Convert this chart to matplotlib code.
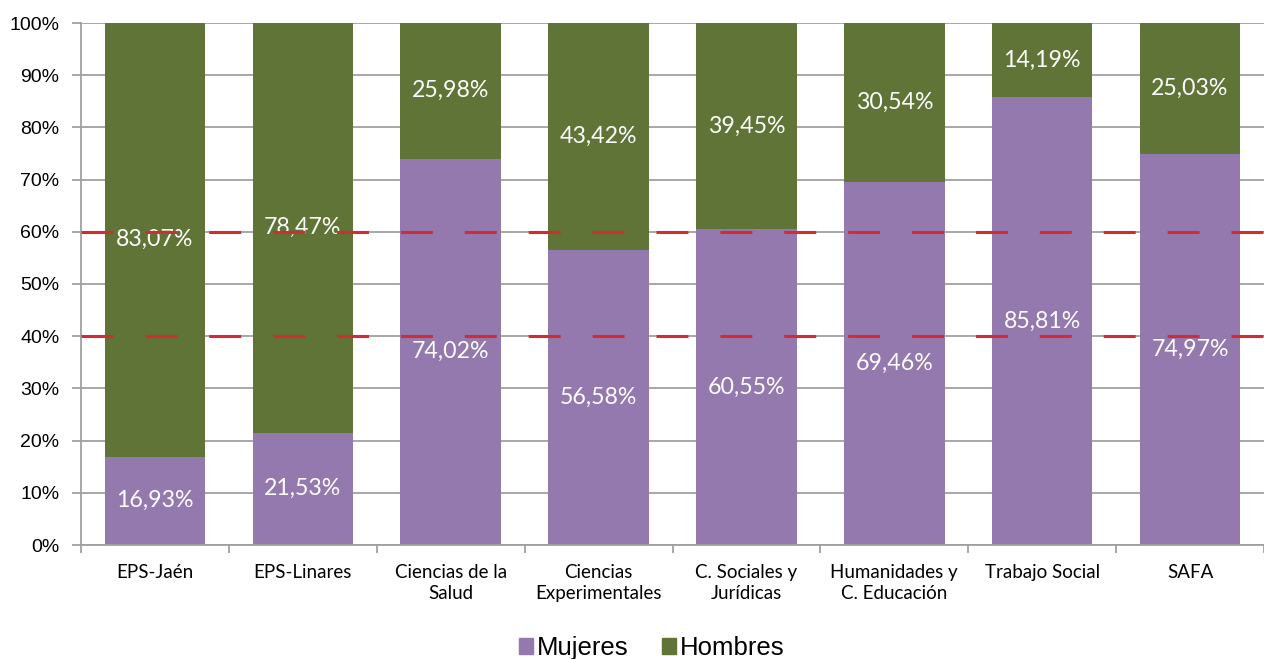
import numpy as np
import matplotlib
matplotlib.use('Agg')
import matplotlib.pyplot as plt
from matplotlib.patches import Patch

plt.rcParams['lines.scale_dashes'] = False

categorias = ['EPS-Jaén', 'EPS-Linares', 'Ciencias de la\nSalud', 'Ciencias\nExperimentales',
              'C. Sociales y\nJurídicas', 'Humanidades y\nC. Educación', 'Trabajo Social', 'SAFA']
mujeres = [16.93, 21.53, 74.02, 56.58, 60.55, 69.46, 85.81, 74.97]
hombres = [83.07, 78.47, 25.98, 43.42, 39.45, 30.54, 14.19, 25.03]
umbrales = [40, 60]

col_muj = '#9479AE'
col_hom = '#5F7436'

fig = plt.figure(figsize=(12.64, 6.59), dpi=100)
ax = fig.add_axes([81/1264, 1-545/659, 1-81/1264, (545-23)/659])

x = np.arange(len(categorias))
w = 0.68
ax.bar(x, mujeres, w, color=col_muj, zorder=2)
ax.bar(x, hombres, w, bottom=mujeres, color=col_hom, zorder=2)

def fmt(v):
    return ('%.2f%%' % v).replace('.', ',')

for i in range(len(categorias)):
    ax.text(x[i], mujeres[i]/2, fmt(mujeres[i]), ha='center', va='center',
            color='white', fontsize=16.7, family='Lato', zorder=3)
    ax.text(x[i], mujeres[i] + hombres[i]/2, fmt(hombres[i]), ha='center', va='center',
            color='white', fontsize=16.7, family='Lato', zorder=3)

for u in umbrales:
    ax.axhline(u, color='#D42A32', lw=2.2, dashes=(23, 23), dash_capstyle='butt', zorder=4)

ax.set_xlim(-0.5, len(categorias) - 0.5)
ax.set_ylim(0, 100)
ax.set_yticks(np.arange(0, 101, 10))
ax.set_yticklabels(['%d%%' % v for v in range(0, 101, 10)], family='Liberation Sans', fontsize=14)
ax.yaxis.grid(True, color='#A0A0A0', lw=1.3, zorder=1)
ax.set_axisbelow(True)

ax.set_xticks(x)
ax.set_xticklabels(categorias, family='Lato', fontsize=13.5, linespacing=1.25)
ax.tick_params(axis='x', length=0, pad=14)
ax.set_xticks(np.arange(-0.5, len(categorias) + 0.5, 1), minor=True)
ax.tick_params(axis='x', which='minor', length=6, width=1.3, color='#A0A0A0')
ax.tick_params(axis='y', length=6.5, width=1.3, color='#A0A0A0', pad=9)

for s in ['top', 'right']:
    ax.spines[s].set_visible(False)
for s in ['left', 'bottom']:
    ax.spines[s].set_color('#A0A0A0')
    ax.spines[s].set_linewidth(1.3)

handles = [Patch(color=col_muj, label='Mujeres'), Patch(color=col_hom, label='Hombres')]
fig.legend(handles=handles, loc='center', bbox_to_anchor=(652/1264, 1-648/659), ncol=2, frameon=False,
           prop={'family': 'Liberation Sans', 'size': 18.5}, handlelength=0.55, handleheight=0.55,
           handletextpad=0.15, columnspacing=1.3, borderpad=0)

fig.savefig('out.png', dpi=100)
